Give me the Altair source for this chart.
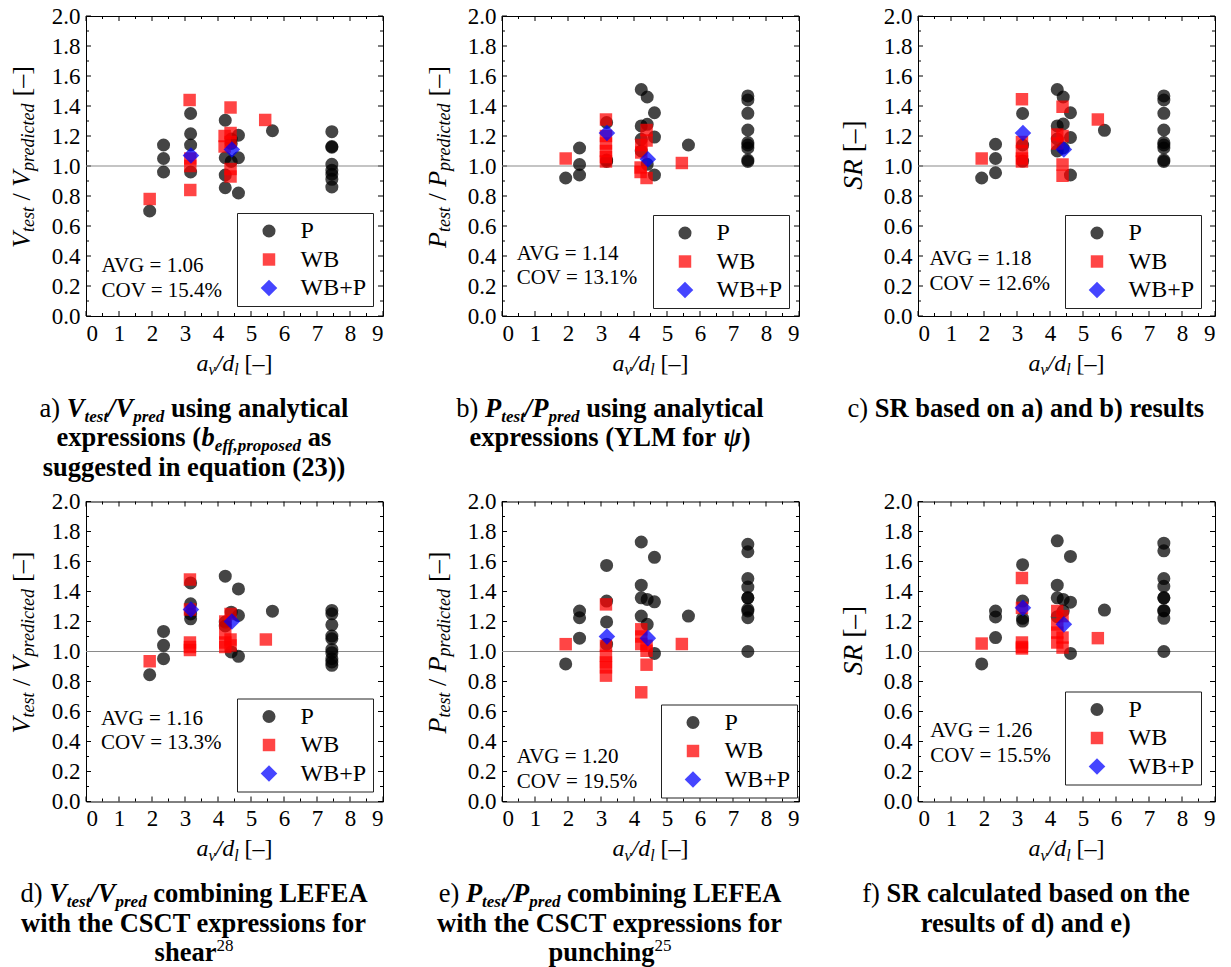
import altair as alt
import pandas as pd

FONT = "Liberation Serif"
W_PLOT = 297
H_PLOT = 300
SERIES = ["P", "WB", "WB+P"]

# ---------------- data ----------------
A_P_X = [1.93, 2.35, 2.35, 2.35, 3.17, 3.17, 3.17, 3.17, 4.22, 4.22, 4.22, 4.22, 4.40, 4.40, 4.40,
         4.62, 4.62, 4.62, 5.65, 7.45, 7.45, 7.45, 7.45, 7.45, 7.45, 7.45, 7.45]
A_P_Y = [0.70, 1.14, 1.05, 0.96, 1.35, 1.215, 1.14, 0.96, 1.305, 1.055, 0.94, 0.855, 1.18, 1.15, 1.03,
         1.205, 1.055, 0.82, 1.235, 1.229, 1.13, 1.125, 1.011, 0.971, 0.945, 0.911, 0.86]
A_WB_X = [1.93, 3.14, 3.16, 3.16, 3.16, 4.20, 4.20, 4.38, 4.38, 4.38, 4.38, 4.38, 5.43]
A_WB_Y = [0.78, 1.44, 1.05, 1.00, 0.84, 1.20, 1.13, 1.39, 1.22, 1.16, 0.98, 0.93, 1.307]
A_WBP_X = [3.18, 4.42]
A_WBP_Y = [1.07, 1.11]

B_P_X = [1.93, 2.35, 2.35, 2.35, 3.17, 3.17, 3.17, 4.22, 4.22, 4.22, 4.22, 4.40, 4.40, 4.40,
         4.62, 4.62, 4.62, 5.65, 7.45, 7.45, 7.45, 7.45, 7.45, 7.45, 7.45, 7.45, 7.45]
B_P_Y = [0.92, 1.12, 1.01, 0.94, 1.29, 1.04, 1.03, 1.51, 1.267, 1.178, 1.10, 1.46, 1.278, 1.011,
         1.355, 1.193, 0.94, 1.14, 1.467, 1.44, 1.351, 1.24, 1.156, 1.14, 1.12, 1.04, 1.03]
B_WB_X = [1.93, 3.15, 3.15, 3.15, 3.15, 3.15, 3.15, 4.22, 4.22, 4.20, 4.20, 4.38, 4.38, 4.38, 5.45]
B_WB_Y = [1.05, 1.31, 1.20, 1.15, 1.10, 1.06, 1.03, 1.14, 1.09, 0.99, 0.96, 1.24, 1.17, 0.92, 1.02]
B_WBP_X = [3.18, 4.42]
B_WBP_Y = [1.22, 1.045]

C_P_X = [1.93, 2.35, 2.35, 2.35, 3.17, 3.17, 3.17, 4.22, 4.22, 4.22, 4.22, 4.40, 4.40, 4.40,
         4.62, 4.62, 4.62, 5.65, 7.45, 7.45, 7.45, 7.45, 7.45, 7.45, 7.45, 7.45, 7.45]
C_P_Y = [0.92, 1.145, 1.05, 0.955, 1.35, 1.14, 1.033, 1.51, 1.267, 1.18, 1.10, 1.46, 1.28, 1.12,
         1.355, 1.19, 0.94, 1.238, 1.467, 1.44, 1.351, 1.24, 1.156, 1.14, 1.12, 1.04, 1.03]
C_WB_X = [1.93, 3.15, 3.15, 3.15, 3.15, 3.15, 4.22, 4.22, 4.38, 4.38, 4.38, 4.38, 5.45]
C_WB_Y = [1.05, 1.445, 1.16, 1.10, 1.05, 1.03, 1.21, 1.15, 1.395, 1.20, 1.01, 0.935, 1.31]
C_WBP_X = [3.18, 4.42]
C_WBP_Y = [1.22, 1.11]

D_P_X = [1.93, 2.35, 2.35, 2.35, 3.17, 3.17, 3.17, 3.17, 4.22, 4.22, 4.22, 4.40, 4.40,
         4.62, 4.62, 4.62, 5.65, 7.45, 7.45, 7.45, 7.45, 7.45, 7.45, 7.45, 7.45, 7.45, 7.45]
D_P_Y = [0.845, 1.134, 1.041, 0.952, 1.457, 1.318, 1.25, 1.218, 1.502, 1.196, 1.17, 1.262, 0.997,
         1.417, 1.24, 0.968, 1.269, 1.274, 1.251, 1.178, 1.103, 1.085, 1.014, 0.992, 0.952, 0.93, 0.908]
D_WB_X = [1.93, 3.15, 3.15, 3.15, 3.15, 3.15, 4.22, 4.22, 4.22, 4.22, 4.38, 4.38, 4.38, 5.45]
D_WB_Y = [0.935, 1.48, 1.28, 1.06, 1.03, 1.01, 1.20, 1.12, 1.06, 1.03, 1.25, 1.08, 1.04, 1.08]
D_WBP_X = [3.18, 4.42]
D_WBP_Y = [1.28, 1.20]

E_P_X = [1.93, 2.35, 2.35, 2.35, 3.17, 3.17, 3.17, 3.17, 4.22, 4.22, 4.22, 4.22, 4.40, 4.40,
         4.62, 4.62, 4.62, 5.65, 7.45, 7.45, 7.45, 7.45, 7.45, 7.45, 7.45, 7.45, 7.45, 7.45]
E_P_Y = [0.917, 1.27, 1.225, 1.089, 1.574, 1.336, 1.197, 1.049, 1.73, 1.442, 1.358, 1.236, 1.347, 1.181,
         1.628, 1.331, 0.987, 1.236, 1.715, 1.665, 1.486, 1.43, 1.358, 1.358, 1.281, 1.27, 1.225, 1.0]
E_WB_X = [1.93, 3.15, 3.15, 3.15, 3.15, 3.15, 3.15, 4.22, 4.22, 4.22, 4.22, 4.38, 4.38, 4.38, 5.45]
E_WB_Y = [1.049, 1.314, 1.038, 0.971, 0.927, 0.894, 0.839, 1.148, 1.10, 1.05, 0.728, 1.038, 1.005, 0.912, 1.05]
E_WBP_X = [3.18, 4.42]
E_WBP_Y = [1.10, 1.089]

F_P_X = [1.93, 2.35, 2.35, 2.35, 3.17, 3.17, 3.17, 3.17, 4.22, 4.22, 4.22, 4.22, 4.40, 4.40,
         4.62, 4.62, 4.62, 5.65, 7.45, 7.45, 7.45, 7.45, 7.45, 7.45, 7.45, 7.45, 7.45, 7.45]
F_P_Y = [0.917, 1.27, 1.23, 1.093, 1.579, 1.336, 1.221, 1.203, 1.738, 1.442, 1.358, 1.232, 1.347, 1.27,
         1.634, 1.329, 0.987, 1.276, 1.722, 1.671, 1.486, 1.435, 1.358, 1.358, 1.274, 1.27, 1.221, 1.0]
F_WB_X = [1.93, 3.15, 3.15, 3.15, 3.15, 3.15, 4.22, 4.22, 4.22, 4.22, 4.38, 4.38, 4.38, 5.45]
F_WB_Y = [1.053, 1.49, 1.291, 1.06, 1.03, 1.02, 1.27, 1.18, 1.126, 1.06, 1.236, 1.093, 1.026, 1.089]
F_WBP_X = [3.18, 4.42]
F_WBP_Y = [1.291, 1.181]

AVG_TEXT = ["AVG = 1.06", "AVG = 1.14", "AVG = 1.18", "AVG = 1.16", "AVG = 1.20", "AVG = 1.26"]
COV_TEXT = ["COV = 15.4%", "COV = 13.1%", "COV = 12.6%", "COV = 13.3%", "COV = 19.5%", "COV = 15.5%"]

X_TICKS = list(range(10))
X_MINOR = [i + 0.5 for i in range(9)]
Y_TICKS = [round(i * 0.2, 1) for i in range(11)]
Y_MINOR = [round(0.1 + i * 0.2, 1) for i in range(10)]

# ---------------- Times-metric widths for rich text placement ----------------
UP = "ABCDEFGHIJKLMNOPQRSTUVWXYZ"
LO = "abcdefghijklmnopqrstuvwxyz"
PUNCT = {" ": 250, "(": 333, ")": 333, "+": 564, ",": 250, "-": 333, ".": 250, "/": 278,
         "=": 564, "[": 333, "]": 333, "\u2013": 500, "%": 833, "\u03c8": 686}
for d in "0123456789":
    PUNCT[d] = 500


def mk(up, lo):
    m = dict(PUNCT)
    m.update(dict(zip(UP, up)))
    m.update(dict(zip(LO, lo)))
    return m


WID = {
    "r": mk([722, 667, 667, 722, 611, 556, 722, 722, 333, 389, 722, 611, 889, 722, 722, 556, 722, 667, 556, 611, 722, 722, 944, 722, 722, 611],
            [444, 500, 444, 500, 444, 333, 500, 500, 278, 278, 500, 278, 778, 500, 500, 500, 500, 333, 389, 278, 500, 500, 722, 500, 500, 444]),
    "b": mk([722, 667, 722, 722, 667, 611, 778, 778, 389, 500, 778, 667, 944, 722, 778, 611, 778, 722, 556, 667, 722, 722, 1000, 722, 722, 667],
            [500, 556, 444, 556, 444, 333, 500, 556, 278, 333, 556, 278, 833, 556, 500, 556, 556, 444, 389, 333, 556, 500, 722, 500, 500, 444]),
    "i": mk([611, 611, 667, 722, 611, 611, 722, 722, 333, 444, 667, 556, 833, 667, 722, 611, 722, 611, 500, 556, 722, 611, 833, 611, 556, 556],
            [500, 500, 444, 500, 444, 278, 500, 500, 278, 278, 444, 278, 722, 500, 500, 500, 500, 389, 389, 278, 500, 444, 667, 444, 444, 389]),
    "bi": mk([667, 667, 667, 722, 667, 667, 722, 778, 389, 500, 667, 611, 889, 722, 722, 611, 722, 667, 556, 611, 722, 667, 889, 667, 611, 611],
             [500, 500, 444, 500, 444, 333, 500, 500, 278, 278, 500, 278, 778, 556, 500, 500, 500, 389, 389, 278, 556, 444, 667, 500, 444, 389]),
}


def tw(s, style, size):
    return sum(WID[style].get(ch, 500) for ch in s) / 1000.0 * size


def T(s, x, y, size, style, angle=0):
    return alt.Chart(pd.DataFrame({"t": [s]})).mark_text(
        align="left", baseline="alphabetic", font=FONT, fontSize=size,
        fontWeight="bold" if style in ("b", "bi") else "normal",
        fontStyle="italic" if style in ("i", "bi") else "normal",
        angle=angle, color="black",
    ).encode(text="t:N", x=alt.value(x), y=alt.value(y))


def hrich(frags, cx, y):
    total = sum(tw(s, st, sz) for s, st, sz, dy in frags)
    x = cx - total / 2.0
    out = []
    for s, st, sz, dy in frags:
        lead = len(s) - len(s.lstrip(" "))
        body = s.strip(" ")
        if body:
            out.append(T(body, x + tw(" " * lead, st, sz), y + dy, sz, st))
        x += tw(s, st, sz)
    return out


def vrich(frags, xb, cy):
    total = sum(tw(s, st, sz) for s, st, sz, dy in frags)
    y = cy + total / 2.0
    out = []
    for s, st, sz, dy in frags:
        lead = len(s) - len(s.lstrip(" "))
        body = s.strip(" ")
        if body:
            out.append(T(body, xb + dy, y - tw(" " * lead, st, sz), sz, st, angle=270))
        y -= tw(s, st, sz)
    return out


M, S, SUB = 26, 18, 4.5
YT_V = [("V", "i", M, 0), ("test", "i", S, SUB), (" / ", "r", M, 0), ("V", "i", M, 0),
        ("predicted", "i", S, SUB), (" [\u2013]", "r", M, 0)]
YT_P = [("P", "i", M, 0), ("test", "i", S, SUB), (" / ", "r", M, 0), ("P", "i", M, 0),
        ("predicted", "i", S, SUB), (" [\u2013]", "r", M, 0)]
YT_SR = [("SR", "i", 27.5, 0), (" [\u2013]", "r", 27.5, 0)]
XT = [("a", "i", 24, 0), ("v", "i", 16, 4.5), ("/", "i", 24, 0), ("d", "i", 24, 0),
      ("l", "i", 16, 4.5), (" [\u2013]", "r", 24, 0)]

CM, CS, CSUB = 26.5, 17, 5
CAP = [
    [[("a) ", "r", CM, 0), ("V", "bi", CM, 0), ("test", "bi", CS, CSUB), ("/", "bi", CM, 0), ("V", "bi", CM, 0),
      ("pred", "bi", CS, CSUB), (" using analytical", "b", CM, 0)],
     [("expressions (", "b", CM, 0), ("b", "bi", CM, 0), ("eff,proposed", "bi", CS, CSUB), (" as", "b", CM, 0)],
     [("suggested in equation (23))", "b", CM, 0)]],
    [[("b) ", "r", CM, 0), ("P", "bi", CM, 0), ("test", "bi", CS, CSUB), ("/", "bi", CM, 0), ("P", "bi", CM, 0),
      ("pred", "bi", CS, CSUB), (" using analytical", "b", CM, 0)],
     [("expressions (YLM for ", "b", CM, 0), ("\u03c8", "bi", CM, 0), (")", "b", CM, 0)]],
    [[("c) ", "r", CM, 0), ("SR based on a) and b) results", "b", CM, 0)]],
    [[("d) ", "r", CM, 0), ("V", "bi", CM, 0), ("test", "bi", CS, CSUB), ("/", "bi", CM, 0), ("V", "bi", CM, 0),
      ("pred", "bi", CS, CSUB), (" combining LEFEA", "b", CM, 0)],
     [("with the CSCT expressions for", "b", CM, 0)],
     [("shear", "b", CM, 0), ("28", "r", 17, -10)]],
    [[("e) ", "r", CM, 0), ("P", "bi", CM, 0), ("test", "bi", CS, CSUB), ("/", "bi", CM, 0), ("P", "bi", CM, 0),
      ("pred", "bi", CS, CSUB), (" combining LEFEA", "b", CM, 0)],
     [("with the CSCT expressions for", "b", CM, 0)],
     [("punching", "b", CM, 0), ("25", "r", 17, -10)]],
    [[("f) ", "r", CM, 0), ("SR calculated based on the", "b", CM, 0)],
     [("results of d) and e)", "b", CM, 0)]],
]
CAP_BASE = [400.5, 430, 459.5]

LEGEND_POS = [(151, 197), (151, 199), (147, 199), (151, 197), (159, 203), (147, 190)]
STAT_POS = [(15.5, 250, 275), (14.7, 237.5, 262), (11.5, 243, 267.5),
            (15, 217.5, 241.5), (14.7, 255.5, 280.5), (12.3, 229, 254.5)]
Y_TITLES = [YT_V, YT_P, YT_SR, YT_V, YT_P, YT_SR]
Y_TITLE_CY = [141, 141, 139, 141, 141, 139]

PANEL_DATA = [
    (A_P_X, A_P_Y, A_WB_X, A_WB_Y, A_WBP_X, A_WBP_Y),
    (B_P_X, B_P_Y, B_WB_X, B_WB_Y, B_WBP_X, B_WBP_Y),
    (C_P_X, C_P_Y, C_WB_X, C_WB_Y, C_WBP_X, C_WBP_Y),
    (D_P_X, D_P_Y, D_WB_X, D_WB_Y, D_WBP_X, D_WBP_Y),
    (E_P_X, E_P_Y, E_WB_X, E_WB_Y, E_WBP_X, E_WBP_Y),
    (F_P_X, F_P_Y, F_WB_X, F_WB_Y, F_WBP_X, F_WBP_Y),
]


def xenc():
    return alt.X("x:Q", scale=alt.Scale(domain=[0, 9], nice=False, zero=False),
                 axis=alt.Axis(values=X_TICKS, format="d", title=None, labelPadding=6))


def yenc():
    return alt.Y("y:Q", scale=alt.Scale(domain=[0, 2], nice=False, zero=False),
                 axis=alt.Axis(values=Y_TICKS, format=".1f", title=None, labelPadding=6))


def panel(i):
    px, py, wx, wy, bx, by = PANEL_DATA[i]
    df = pd.concat([
        pd.DataFrame({"x": px, "y": py, "s": "P"}),
        pd.DataFrame({"x": wx, "y": wy, "s": "WB"}),
        pd.DataFrame({"x": bx, "y": by, "s": "WB+P"}),
    ], ignore_index=True)
    lx, ly = LEGEND_POS[i]
    leg = alt.Legend(title=None, orient="none", legendX=lx, legendY=ly, strokeColor="#222",
                     fillColor="white", padding=6, rowPadding=4.5, symbolOffset=14,
                     labelOffset=19.5, labelFont=FONT, labelFontSize=24, labelColor="black",
                     symbolOpacity=0.73, symbolStrokeWidth=0)
    pts = alt.Chart(df).mark_point(filled=True, opacity=0.73, strokeWidth=0).encode(
        x=xenc(), y=yenc(),
        color=alt.Color("s:N", scale=alt.Scale(domain=SERIES, range=["#000000", "#ff0000", "#0000ff"]), legend=leg),
        shape=alt.Shape("s:N", scale=alt.Scale(domain=SERIES, range=["circle", "square", "diamond"]), legend=leg),
        size=alt.Size("s:N", scale=alt.Scale(type="ordinal", domain=SERIES, range=[170, 155, 275]), legend=leg),
    )
    ref = alt.Chart(pd.DataFrame({"y": [1.0]})).mark_rule(color="#8a8a8a", strokeWidth=1.2).encode(y=yenc())
    tick_layers = []
    for vals, L in ((Y_TICKS, 5), (Y_MINOR, 3)):
        d = pd.DataFrame({"y": vals})
        tick_layers.append(alt.Chart(d).mark_rule(color="black", strokeWidth=1).encode(
            y=yenc(), x=alt.value(0), x2=alt.value(L)))
        tick_layers.append(alt.Chart(d).mark_rule(color="black", strokeWidth=1).encode(
            y=yenc(), x=alt.value(W_PLOT), x2=alt.value(W_PLOT - L)))
    for vals, L in ((X_TICKS, 5), (X_MINOR, 3)):
        d = pd.DataFrame({"x": vals})
        tick_layers.append(alt.Chart(d).mark_rule(color="black", strokeWidth=1).encode(
            x=xenc(), y=alt.value(H_PLOT), y2=alt.value(H_PLOT - L)))
        tick_layers.append(alt.Chart(d).mark_rule(color="black", strokeWidth=1).encode(
            x=xenc(), y=alt.value(0), y2=alt.value(L)))
    sx, sy1, sy2 = STAT_POS[i]
    stats = [
        alt.Chart(pd.DataFrame({"t": [AVG_TEXT[i]]})).mark_text(
            align="left", baseline="middle", font=FONT, fontSize=21, color="black"
        ).encode(text="t:N", x=alt.value(sx), y=alt.value(sy1)),
        alt.Chart(pd.DataFrame({"t": [COV_TEXT[i]]})).mark_text(
            align="left", baseline="middle", font=FONT, fontSize=21, color="black"
        ).encode(text="t:N", x=alt.value(sx), y=alt.value(sy2)),
    ]
    texts = []
    texts += vrich(Y_TITLES[i], -56.5, Y_TITLE_CY[i])
    texts += hrich(XT, W_PLOT / 2.0, 354.5)
    for k, line in enumerate(CAP[i]):
        texts += hrich(line, 108, CAP_BASE[k])
    return alt.layer(*tick_layers, ref, pts, *stats, *texts).properties(width=W_PLOT, height=H_PLOT)


chart = alt.concat(*[panel(i) for i in range(6)], columns=3,
                   spacing={"row": 185.5, "column": 119}, bounds="flush").resolve_scale(
    color="independent", shape="independent", size="independent"
).resolve_legend(
    color="independent", shape="independent", size="independent"
).properties(
    padding={"left": 0, "top": -4, "right": 4, "bottom": 8}
).configure_view(stroke="#000000", strokeWidth=1).configure_axis(
    labelFont=FONT, labelFontSize=23, labelColor="black", ticks=False, tickSize=0,
    domain=False, grid=False
)

chart.save("out.html", embed_options={"renderer": "svg", "actions": False})
